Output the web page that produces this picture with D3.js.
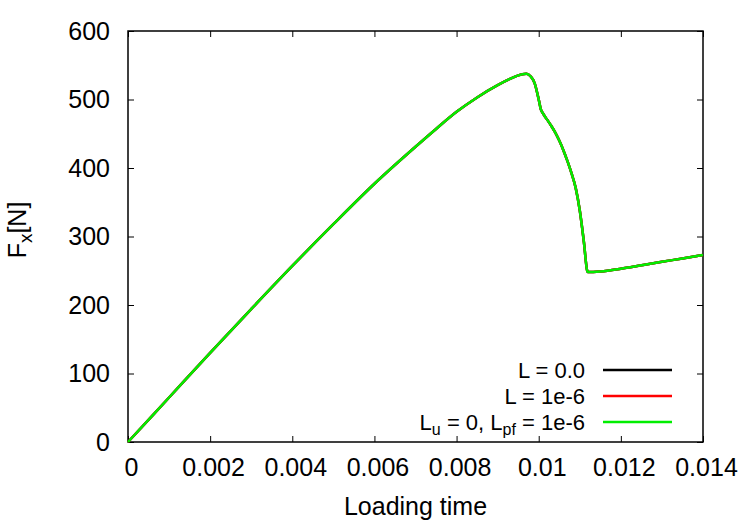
<!DOCTYPE html>
<html>
<head>
<meta charset="utf-8">
<script src="https://cdn.jsdelivr.net/npm/d3@7"></script>
<style>
  body { margin: 0; background: #fff; }
  text { font-family: "Liberation Sans", Arial, Helvetica, sans-serif; fill: #000; }
</style>
</head>
<body>
<div id="chart"></div>
<script>
// loading time (x) and force Fx (y)
var time  = [0, 0.001, 0.002, 0.003, 0.004, 0.005, 0.006, 0.007, 0.0075, 0.008, 0.0085, 0.009, 0.0093,
             0.0096, 0.0097, 0.0098, 0.0099, 0.01, 0.01005, 0.0101, 0.0102, 0.0103, 0.0104, 0.0105,
             0.0106, 0.0107, 0.0108, 0.0109, 0.011, 0.0111, 0.01118, 0.0112, 0.0115, 0.012, 0.0125,
             0.013, 0.0135, 0.014];
var force = [0, 65, 130, 194, 257, 318, 377, 431, 457, 482, 503, 521, 530,
             537, 537.5, 534, 524, 500, 486, 480, 471, 462, 452, 440,
             426, 410, 392, 371, 338, 292, 250, 248, 249, 253, 258,
             263, 268, 273];

// the three runs coincide, so they share the same values
var seriesNames  = ["L = 0.0", "L = 1e-6", "Lu = 0, Lpf = 1e-6"];
var seriesColors = ["#000000", "#ff0000", "#00ee00"];

var xTicks = [0, 0.002, 0.004, 0.006, 0.008, 0.01, 0.012, 0.014];
var yTicks = [0, 100, 200, 300, 400, 500, 600];

var width  = 750,
    height = 525,
    margin = {top: 31, right: 47, bottom: 83, left: 128};

var svg = d3.select("#chart").append("svg")
    .attr("width", width)
    .attr("height", height);

var x = d3.scaleLinear().domain([0, 0.014]).range([margin.left, width - margin.right]);
var y = d3.scaleLinear().domain([0, 600]).range([height - margin.bottom, margin.top]);

var tickLen  = 6;
var fontSize = 25;

// axes: ticks point inward, mirrored on top and right
svg.append("g")
    .attr("transform", "translate(0," + y(0) + ")")
    .call(d3.axisBottom(x).tickValues(xTicks).tickSizeInner(-tickLen).tickSizeOuter(0).tickPadding(16)
      .tickFormat(function (d) { return d === 0 ? "0" : d3.format(".3~f")(d); }))
    .call(function (g) { g.select(".domain").remove(); })
    .selectAll("text").attr("font-size", fontSize).attr("dy", "0.71em").attr("dx", 3);

svg.append("g")
    .attr("transform", "translate(0," + y(600) + ")")
    .call(d3.axisTop(x).tickValues(xTicks).tickSizeInner(-tickLen).tickSizeOuter(0).tickFormat(""))
    .call(function (g) { g.select(".domain").remove(); });

svg.append("g")
    .attr("transform", "translate(" + x(0) + ",0)")
    .call(d3.axisLeft(y).tickValues(yTicks).tickSizeInner(-tickLen).tickSizeOuter(0).tickPadding(18))
    .call(function (g) { g.select(".domain").remove(); })
    .selectAll("text").attr("font-size", fontSize);

svg.append("g")
    .attr("transform", "translate(" + x(0.014) + ",0)")
    .call(d3.axisRight(y).tickValues(yTicks).tickSizeInner(-tickLen).tickSizeOuter(0).tickFormat(""))
    .call(function (g) { g.select(".domain").remove(); });

svg.selectAll(".tick line").attr("stroke", "#000").attr("stroke-width", 1);

// frame
svg.append("rect")
    .attr("x", x(0)).attr("y", y(600))
    .attr("width", x(0.014) - x(0)).attr("height", y(0) - y(600))
    .attr("fill", "none").attr("stroke", "#000").attr("stroke-width", 1.5);

// curves
var line = d3.line()
    .x(function (d, i) { return x(time[i]); })
    .y(function (d) { return y(d); })
    .curve(d3.curveMonotoneX);

seriesColors.forEach(function (c) {
  svg.append("path")
      .attr("d", line(force))
      .attr("fill", "none")
      .attr("stroke", c)
      .attr("stroke-width", 2.5)
      .attr("stroke-linejoin", "round");
});

// legend (rows are tight, so the text is a touch smaller than the axis labels)
var legendY = [370, 396, 422];
var legendFont = 22;
var legend = svg.append("g");

seriesNames.forEach(function (name, i) {
  var t = legend.append("text")
      .attr("x", 585).attr("y", legendY[i])
      .attr("dy", "0.35em")
      .attr("text-anchor", "end")
      .attr("font-size", legendFont);
  if (i < 2) {
    t.text(name);
  } else {
    t.append("tspan").text("L");
    t.append("tspan").attr("font-size", 16).attr("dy", 5).text("u");
    t.append("tspan").attr("dy", -5).text(" = 0, L");
    t.append("tspan").attr("font-size", 16).attr("dy", 5).text("pf");
    t.append("tspan").attr("dy", -5).text(" = 1e-6");
  }
  legend.append("line")
      .attr("x1", 603).attr("x2", 672)
      .attr("y1", legendY[i]).attr("y2", legendY[i])
      .attr("stroke", seriesColors[i])
      .attr("stroke-width", 2.5);
});

// axis titles
svg.append("text")
    .attr("x", x(0.007)).attr("y", 515)
    .attr("text-anchor", "middle")
    .attr("font-size", fontSize)
    .text("Loading time");

var yl = svg.append("text")
    .attr("transform", "translate(26,230) rotate(-90)")
    .attr("text-anchor", "middle")
    .attr("font-size", fontSize);
yl.append("tspan").text("F");
yl.append("tspan").attr("font-size", 19).attr("dy", 6).text("x");
yl.append("tspan").attr("dy", -6).text("[N]");
</script>
</body>
</html>
